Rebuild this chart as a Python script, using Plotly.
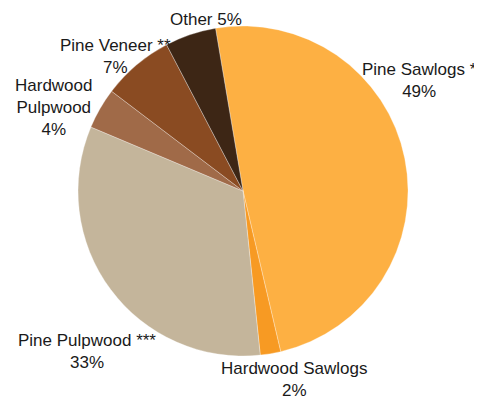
import plotly.graph_objects as go

labels = ["Pine Sawlogs *", "Hardwood Sawlogs", "Pine Pulpwood ***",
          "Hardwood<br>Pulpwood", "Pine Veneer **", "Other"]
values = [49, 2, 33, 4, 7, 5]
colors = ["#FDB043", "#F79A23", "#C4B59B", "#A06A48", "#8A4B22", "#3D2615"]
# separator between label and percentage in the data label
separators = ["<br>", "<br>", "<br>", "<br>", "<br>", " "]

W, H = 482, 399
OFF = 8  # page body margin in the screenshot

fig = go.Figure(go.Pie(
    labels=labels, values=values,
    textinfo="none", automargin=False,
    sort=False, direction="clockwise", rotation=-9.6,
    marker=dict(colors=colors, line=dict(color="rgba(255,255,255,0.5)", width=0.6)),
    domain=dict(x=[0.1453, 0.8299], y=[0.1278, 0.9549]),
    showlegend=False, hoverinfo="none",
))

# data-label placement (screen pixels of each label block centre, Excel "best fit" style)
label_centres = [(419.5, 80.5), (294, 379.5), (86.7, 351.7),
                 (53.5, 107.5), (115, 56.5), (206, 19.5)]

annotations = []
for lab, val, sep, (px, py) in zip(labels, values, separators, label_centres):
    annotations.append(dict(
        text=f"{lab}{sep}{val}%",
        x=(px - OFF) / W, y=1 - (py - OFF) / H,
        xref="paper", yref="paper", xanchor="center", yanchor="middle",
        showarrow=False, align="center", borderpad=0,
        font=dict(family="Liberation Sans, Arial, sans-serif", size=17, color="#1a1a1a"),
    ))

fig.update_layout(width=W, height=H, margin=dict(l=0, r=0, t=0, b=0, autoexpand=False),
                  paper_bgcolor="white", plot_bgcolor="white", annotations=annotations)
fig.write_html("out.html")
